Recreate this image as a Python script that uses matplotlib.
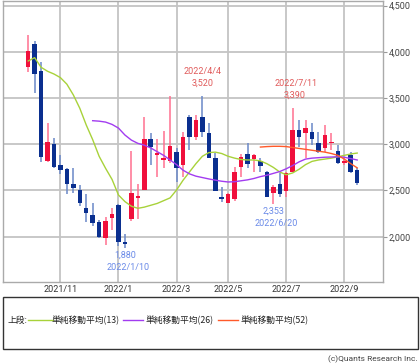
import matplotlib
matplotlib.use("Agg")
import matplotlib.pyplot as plt
from matplotlib.patches import Rectangle
from matplotlib.lines import Line2D
import numpy as np
import pandas as pd

plt.rcParams['font.family'] = ['Roboto', 'Noto Sans CJK JP', 'DejaVu Sans']

# ---- data (weekly candles) ----
weeks = pd.date_range('2021-09-27', periods=52, freq='W-MON')
opens = [3840, 4085, 3793, 2819, 3000, 2776, 2733, 2570, 2505, 2307,
         2235, 2162, 1983, 2206, 2340, 1945, 2192, 2422, 2505, 3057,
         2884, 2833, 2819, 2920, 2776, 3299, 3082, 3299, 3119, 2848,
         2433, 2368, 2405, 2758, 2895, 2840, 2823, 2703, 2476, 2570,
         2498, 2703, 3155, 3119, 3137, 3018, 2957, 3011, 2931, 2794,
         2884, 2722]
closes = [4010, 3761, 2866, 3028, 2758, 2725, 2570, 2524, 2361, 2260,
          2145, 1997, 2170, 2242, 1939, 1925, 2473, 2440, 3057, 2974,
          2903, 2848, 2982, 2740, 3082, 3082, 3263, 3137, 2848, 2498,
          2405, 2462, 2703, 2860, 2787, 2884, 2765, 2426, 2535, 2462,
          2686, 3155, 3082, 3173, 3054, 2920, 3101, 3028, 2794, 2819,
          2697, 2578]
highs = [4183, 4118, 3894, 3234, 3065, 2884, 2747, 2747, 2560, 2459,
         2361, 2180, 2217, 2307, 2350, 2026, 2931, 2567, 3299, 3126,
         3057, 3144, 3520, 2960, 3137, 3316, 3316, 3520, 3227, 2910,
         2535, 2470, 2750, 2895, 3011, 2890, 2848, 2710, 2560, 2686,
         2700, 3390, 3263, 3263, 3227, 3137, 3209, 3119, 2992, 2848,
         2920, 2740]
lows = [3786, 3552, 2805, 2810, 2747, 2675, 2462, 2470, 2336, 2162,
        2120, 1983, 1910, 2073, 1895, 1880, 2175, 2192, 2500, 2776,
        2649, 2747, 2794, 2595, 2650, 2938, 3047, 3082, 2848, 2498,
        2379, 2361, 2390, 2649, 2740, 2700, 2703, 2426, 2353, 2433,
        2433, 2703, 2974, 2848, 2992, 2902, 2920, 2938, 2787, 2776,
        2686, 2560]

ma13 = [3901, 3937, 3833, 3790, 3760, 3721, 3650, 3534, 3390, 3209,
        3050, 2870, 2740, 2620, 2451, 2380, 2330, 2307, 2320, 2340,
        2360, 2390, 2420, 2505, 2610, 2700, 2790, 2870, 2910, 2915,
        2900, 2870, 2850, 2835, 2830, 2830, 2820, 2790, 2750, 2700,
        2670, 2690, 2730, 2780, 2815, 2830, 2840, 2850, 2865, 2880,
        2895, 2905]
ma26_start = 10
ma26 = [3255, 3250, 3240, 3215, 3175, 3100, 3045, 3010, 2990, 2960,
        2920, 2880, 2830, 2780, 2720, 2680, 2655, 2640, 2625, 2612,
        2600, 2592, 2595, 2605, 2615, 2630, 2650, 2665, 2685, 2705,
        2735, 2770, 2810, 2840, 2850, 2855, 2860, 2862, 2865, 2860,
        2845, 2830]
ma52_start = 36
ma52 = [2970, 2975, 2978, 2978, 2975, 2965, 2955, 2945, 2935, 2925,
        2915, 2900, 2880, 2840, 2790, 2745]

month_ticks = ['2021/11', '2022/1', '2022/3', '2022/5', '2022/7', '2022/9']
y_ticks = [2000, 2500, 3000, 3500, 4000, 4500]

legend_labels = ['単純移動平均(13)', '単純移動平均(26)', '単純移動平均(52)']

# ---- colors ----
UP = '#f0103c'
UP_W = '#ff7090'
DN = '#0a2f8f'
DN_W = '#6a88c8'
C13 = '#a8d23a'
C26 = '#a23cf0'
C52 = '#ff5a2a'
GRID = '#c4c4c4'

fig = plt.figure(figsize=(4.2, 3.64), dpi=100)
ax = fig.add_axes([3/420, 1-282/364, 380/420, 281/364])

x = np.arange(len(weeks))
o = np.array(opens); c = np.array(closes)
h = np.array(highs); l = np.array(lows)
up = c >= o

ax.vlines(x[up], l[up], h[up], color=UP_W, lw=1.1, zorder=3)
ax.vlines(x[~up], l[~up], h[~up], color=DN_W, lw=1.1, zorder=3)
bot = np.minimum(o, c)
hgt = np.maximum(np.abs(c - o), 8)
ax.bar(x[up], hgt[up], bottom=bot[up], width=0.7, color=UP, zorder=4, linewidth=0)
ax.bar(x[~up], hgt[~up], bottom=bot[~up], width=0.7, color=DN, zorder=4, linewidth=0)

ax.plot(x, ma13, color=C13, lw=1.0, zorder=5)
ax.plot(x[ma26_start:ma26_start + len(ma26)], ma26, color=C26, lw=1.0, zorder=5)
ax.plot(x[ma52_start:ma52_start + len(ma52)], ma52, color=C52, lw=1.0, zorder=5)

# x ticks: first week of each labelled month
tick_pos = []
for m in month_ticks:
    yy, mm = m.split('/')
    idx = np.where((weeks.year == int(yy)) & (weeks.month == int(mm)))[0][0]
    tick_pos.append(idx)
ax.set_xticks(tick_pos)
ax.set_xticklabels(month_ticks)
ax.set_yticks(y_ticks)
ax.set_yticklabels([f'{v:,}' for v in y_ticks])
ax.yaxis.tick_right()
ax.tick_params(axis='y', length=3, color='#999999', labelsize=6.5, labelcolor='#444444', pad=1)
ax.tick_params(axis='x', length=0, labelsize=6.5, labelcolor='#333333', pad=2)
ax.set_xlim(-3.9, 55)
ax.set_ylim(1510, 4550)
ax.grid(True, color=GRID, lw=1.3, zorder=0)
ax.set_axisbelow(True)
for s in ax.spines.values():
    s.set_color('#aaaaaa')
    s.set_linewidth(1.0)

# annotations
red_t = '#e05a5a'
blue_t = '#6a8ae8'
i_hi1 = 27
ax.text(i_hi1, highs[i_hi1] + 215, weeks[i_hi1].strftime('%Y/%-m/%-d'), color=red_t,
        fontsize=6.5, ha='center', va='bottom')
ax.text(i_hi1, highs[i_hi1] + 90, f'{highs[i_hi1]:,}', color=red_t,
        fontsize=6.5, ha='center', va='bottom')
i_hi2 = 41
ax.text(i_hi2 + 0.6, highs[i_hi2] + 215, weeks[i_hi2].strftime('%Y/%-m/%-d'), color=red_t,
        fontsize=6.5, ha='center', va='bottom')
ax.text(i_hi2 + 0.3, highs[i_hi2] + 90, f'{highs[i_hi2]:,}', color=red_t,
        fontsize=6.5, ha='center', va='bottom')
i_lo1 = 15
ax.text(i_lo1, lows[i_lo1] - 30, f'{lows[i_lo1]:,}', color=blue_t,
        fontsize=6.5, ha='center', va='top')
ax.text(i_lo1 + 0.5, lows[i_lo1] - 160, weeks[i_lo1].strftime('%Y/%-m/%-d'), color=blue_t,
        fontsize=6.5, ha='center', va='top')
i_lo2 = 38
ax.text(i_lo2, lows[i_lo2] - 30, f'{lows[i_lo2]:,}', color=blue_t,
        fontsize=6.5, ha='center', va='top')
ax.text(i_lo2 + 0.4, lows[i_lo2] - 160, weeks[i_lo2].strftime('%Y/%-m/%-d'), color=blue_t,
        fontsize=6.5, ha='center', va='top')

# legend box
W, H = 420.0, 364.0
fig.patches.append(Rectangle((3/W, 1-349/H), 415/W, 52/H, transform=fig.transFigure,
                             fill=False, edgecolor='#333333', lw=1.0))
ly = 1 - 320/H
fig.text(8/W, ly, '上段:', fontsize=6.3, va='center', ha='left', color='#222222',
         family=['Noto Sans CJK JP', 'DejaVu Sans'])
segs = [(28, 53, 52, C13), (123, 143, 146, C26), (218, 238, 241, C52)]
for (x0, x1, tx, col), lab in zip(segs, legend_labels):
    fig.lines.append(Line2D([x0/W, x1/W], [ly, ly], transform=fig.transFigure, color=col, lw=1.0))
    fig.text(tx/W, ly, lab, fontsize=6.3, va='center', ha='left', color='#222222',
             family=['Noto Sans CJK JP', 'DejaVu Sans'])

fig.text(418/W, 1-359/H, '(c)Quants Research Inc.', fontsize=6, ha='right', va='center',
         color='#444444')

fig.savefig('out.png', dpi=100)
